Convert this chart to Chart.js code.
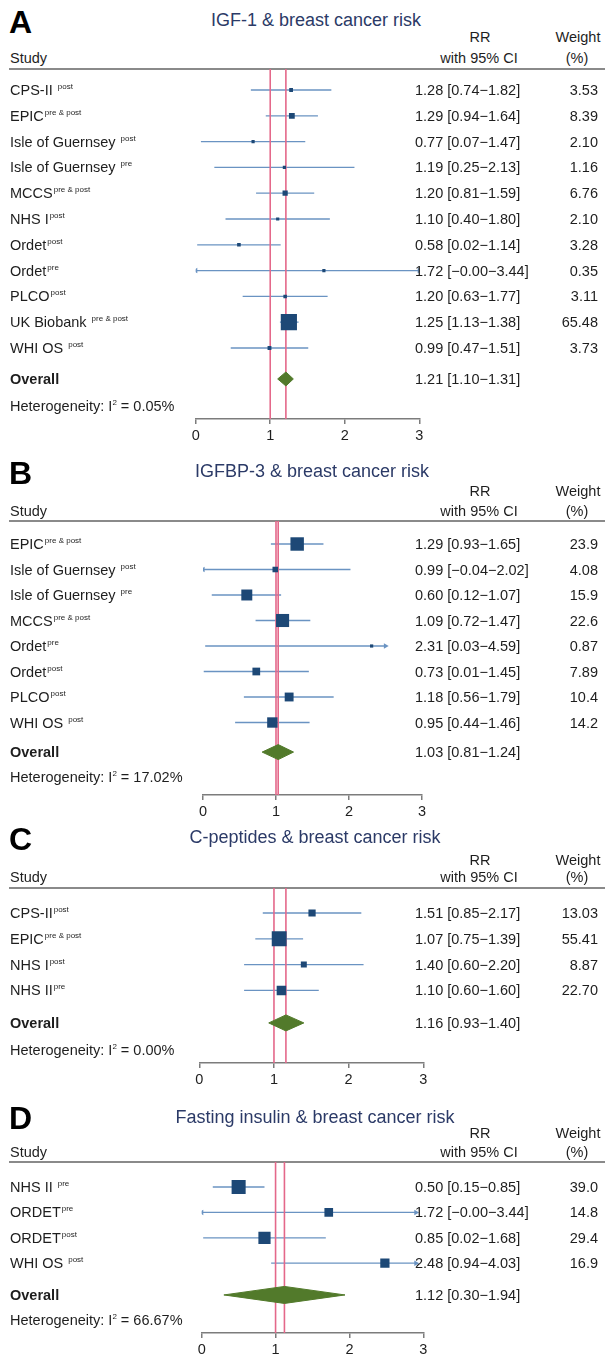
<!DOCTYPE html>
<html><head><meta charset="utf-8">
<script src="https://cdn.jsdelivr.net/npm/chart.js@4.4.1/dist/chart.umd.min.js"></script>
<style>
html,body{margin:0;padding:0;background:#fff;}
body{width:605px;height:1356px;position:relative;overflow:hidden;font-family:"Liberation Sans",Arial,Helvetica,sans-serif;color:#1e1e1e;}
.t{position:absolute;white-space:nowrap;font-size:14.5px;line-height:16px;}
.sp{font-size:8px;position:relative;top:-6px;margin-left:1px;}
.letter{position:absolute;font-weight:bold;font-size:32px;line-height:34px;color:#000;}
.title{position:absolute;font-size:18px;line-height:20px;color:#2b3a67;text-align:center;width:400px;white-space:nowrap;}
.hline{position:absolute;left:9px;width:596px;height:2px;background:#8a8a8a;}
canvas{position:absolute;left:0;}
</style></head><body>
<script>
// ---------- DATA ----------
// Panel A: IGF-1
const titleA = "IGF-1 & breast cancer risk";
const studiesA = ["CPS-II ", "EPIC", "Isle of Guernsey ", "Isle of Guernsey ", "MCCS", "NHS I", "Ordet", "Ordet", "PLCO", "UK Biobank ", "WHI OS "];
const supsA = ["post", "pre & post", "post", "pre", "pre & post", "post", "post", "pre", "post", "pre & post", "post"];
const rrA = [1.28, 1.29, 0.77, 1.19, 1.20, 1.10, 0.58, 1.72, 1.20, 1.25, 0.99];
const loA = [0.74, 0.94, 0.07, 0.25, 0.81, 0.40, 0.02, -0.001, 0.63, 1.13, 0.47];
const hiA = [1.82, 1.64, 1.47, 2.13, 1.59, 1.80, 1.14, 3.44, 1.77, 1.38, 1.51];
const weightA = ["3.53", "8.39", "2.10", "1.16", "6.76", "2.10", "3.28", "0.35", "3.11", "65.48", "3.73"];
const overallA = [1.21, 1.10, 1.31];
const hetA = "0.05";

// Panel B: IGFBP-3
const titleB = "IGFBP-3 & breast cancer risk";
const studiesB = ["EPIC", "Isle of Guernsey ", "Isle of Guernsey ", "MCCS", "Ordet", "Ordet", "PLCO", "WHI OS "];
const supsB = ["pre & post", "post", "pre", "pre & post", "pre", "post", "post", "post"];
const rrB = [1.29, 0.99, 0.60, 1.09, 2.31, 0.73, 1.18, 0.95];
const loB = [0.93, -0.04, 0.12, 0.72, 0.03, 0.01, 0.56, 0.44];
const hiB = [1.65, 2.02, 1.07, 1.47, 4.59, 1.45, 1.79, 1.46];
const weightB = ["23.9", "4.08", "15.9", "22.6", "0.87", "7.89", "10.4", "14.2"];
const overallB = [1.03, 0.81, 1.24];
const hetB = "17.02";

// Panel C: C-peptides
const titleC = "C-peptides & breast cancer risk";
const studiesC = ["CPS-II", "EPIC", "NHS I", "NHS II"];
const supsC = ["post", "pre & post", "post", "pre"];
const rrC = [1.51, 1.07, 1.40, 1.10];
const loC = [0.85, 0.75, 0.60, 0.60];
const hiC = [2.17, 1.39, 2.20, 1.60];
const weightC = ["13.03", "55.41", "8.87", "22.70"];
const overallC = [1.16, 0.93, 1.40];
const hetC = "0.00";

// Panel D: Fasting insulin
const titleD = "Fasting insulin & breast cancer risk";
const studiesD = ["NHS II ", "ORDET", "ORDET", "WHI OS "];
const supsD = ["pre", "pre", "post", "post"];
const rrD = [0.50, 1.72, 0.85, 2.48];
const loD = [0.15, -0.001, 0.02, 0.94];
const hiD = [0.85, 3.44, 1.68, 4.03];
const weightD = ["39.0", "14.8", "29.4", "16.9"];
const overallD = [1.12, 0.30, 1.94];
const hetD = "66.67";

const xTicks = [0, 1, 2, 3];

// ---------- STYLE / LAYOUT ----------
const FONT = '"Liberation Sans", Arial, Helvetica, sans-serif';
const NAVY = '#1d4876', CI = '#6a93c2', GREEN = '#527a2b', PINK = '#e4688a', AXC = '#7c7c7c';
const AXH = 32;
const W = 605;

function fmt(v){ return (v < 0 || Object.is(v, -0) ? '\u2212' : '') + Math.abs(v).toFixed(2); }
function ciText(e, l, h){ return e.toFixed(2) + ' [' + fmt(l) + '\u2212' + fmt(h) + ']'; }

function addText(html, x, y, align, cls){
  const d = document.createElement('div');
  d.className = cls || 't';
  d.innerHTML = html;
  const s = d.style;
  s.top = (y - 8) + 'px';
  if (align === 'center'){ s.left = (x - 150) + 'px'; s.width = '300px'; s.textAlign = 'center'; }
  else if (align === 'right'){ s.right = (W - x) + 'px'; s.textAlign = 'right'; }
  else { s.left = x + 'px'; }
  document.body.appendChild(d);
  return d;
}

function panel(p){
  const L = p.L;
  const n = p.names.length;
  const ovIdx = n - 1 + L.gap;
  // header
  const le = document.createElement('div'); le.className = 'letter'; le.textContent = p.letter;
  le.style.left = '9px'; le.style.top = (L.letterY - 17) + 'px'; document.body.appendChild(le);
  const ti = document.createElement('div'); ti.className = 'title'; ti.textContent = p.title;
  ti.style.left = (L.titleX - 200) + 'px'; ti.style.top = (L.titleY - 10) + 'px'; document.body.appendChild(ti);
  addText('RR', 480, L.rrY, 'center');
  addText('Weight', 578, L.rrY, 'center');
  addText('Study', 10, L.studyY, 'left');
  addText('with 95% CI', 479, L.studyY, 'center');
  addText('(%)', 577, L.studyY, 'center');
  const hl = document.createElement('div'); hl.className = 'hline'; hl.style.top = (L.lineY - 1) + 'px'; document.body.appendChild(hl);

  // chart
  const cv = document.createElement('canvas');
  cv.width = W; cv.height = L.axisY - L.lineY + AXH;
  cv.style.top = L.lineY + 'px';
  document.body.appendChild(cv);
  const yMin = (L.lineY - L.rowY0) / L.step;
  const yMax = (L.axisY - L.rowY0) / L.step;
  const hh = L.dh / L.step;
  const [c0, c1] = L.clip;

  const ds = [];
  ds.push({ type: 'scatter', order: 0,
    data: p.rr.map((v, i) => ({x: v, y: i})),
    pointStyle: 'rect',
    pointRadius: p.w.map(w => Math.max(3.2, L.k * Math.sqrt(Number(w))) / Math.SQRT2),
    backgroundColor: NAVY, borderColor: NAVY, borderWidth: 0 });
  const [oe, ol, oh] = p.ov;
  ds.push({ type: 'line', order: 1,
    data: [{x: ol, y: ovIdx}, {x: oe, y: ovIdx - hh}, {x: oh, y: ovIdx}, {x: oe, y: ovIdx + hh}, {x: ol, y: ovIdx}],
    fill: 'shape', backgroundColor: GREEN, borderColor: GREEN, borderWidth: 1, pointRadius: 0, tension: 0 });
  const arrows = [], rots = [];
  p.lo.forEach((l, i) => { if (l < c0){ arrows.push({x: c0, y: i}); rots.push(-90); } });
  p.hi.forEach((h, i) => { if (h > c1){ arrows.push({x: c1, y: i}); rots.push(90); } });
  ds.push({ type: 'scatter', order: 2, data: arrows, pointStyle: 'triangle', rotation: rots,
    pointRadius: 3.2, backgroundColor: CI, borderColor: CI, borderWidth: 0 });
  [1, oe].forEach(v => ds.push({ type: 'line', order: 4,
    data: [{x: v, y: yMin}, {x: v, y: yMax}], borderColor: PINK, borderWidth: 1.6, pointRadius: 0, fill: false }));
  p.rr.forEach((v, i) => ds.push({ type: 'line', order: 5,
    data: [{x: Math.max(p.lo[i], c0), y: i}, {x: Math.min(p.hi[i], c1), y: i}],
    borderColor: CI, borderWidth: 1.3, pointRadius: 0, fill: false }));

  const chart = new Chart(cv, {
    type: 'scatter',
    data: { datasets: ds },
    options: {
      responsive: false, animation: false, devicePixelRatio: 1, events: [],
      layout: { autoPadding: false, padding: { left: L.x0, right: W - L.x3, top: 0, bottom: 0 } },
      plugins: { legend: { display: false }, tooltip: { enabled: false } },
      scales: {
        x: { type: 'linear', position: 'bottom', min: xTicks[0], max: xTicks[xTicks.length - 1],
          afterFit: s => { s.height = AXH; },
          afterBuildTicks: s => { s.ticks = xTicks.map(v => ({value: v})); },
          border: { display: true, color: AXC, width: 1.5 },
          grid: { display: true, drawOnChartArea: false, drawTicks: true, tickLength: 5, color: AXC, lineWidth: 1.5 },
          ticks: { padding: 3, color: '#1e1e1e', font: { family: FONT, size: 14.5 }, maxRotation: 0, autoSkip: false } },
        y: { type: 'linear', display: false, reverse: true, min: yMin, max: yMax }
      }
    }
  });

  // row texts aligned to the chart's y scale
  const ys = v => L.lineY + chart.scales.y.getPixelForValue(v);
  p.names.forEach((nm, i) => {
    const y = ys(i);
    addText(nm + '<span class="sp">' + p.sups[i].replace(/&/g, '&amp;') + '</span>', 10, y, 'left');
    addText(ciText(p.rr[i], p.lo[i], p.hi[i]), L.ciX, y, 'left');
    addText(p.w[i], 598, y, 'right');
  });
  const yo = ys(ovIdx);
  addText('<b>Overall</b>', 10, yo, 'left');
  addText(ciText(oe, ol, oh), L.ciX, yo, 'left');
  addText('Heterogeneity: I<span class="sp" style="margin-left:0">2</span> = ' + p.het + '%', 10, L.hetY, 'left');
}

panel({ letter: 'A', title: titleA, names: studiesA, sups: supsA, rr: rrA, lo: loA, hi: hiA, w: weightA, ov: overallA, het: hetA,
  L: { letterY: 22, titleY: 20, titleX: 316, rrY: 37, studyY: 58, lineY: 69, rowY0: 90, step: 25.8, gap: 1.2, hetY: 406, axisY: 419,
       x0: 195.7, x3: 419.3, k: 2.0, clip: [0, 3], dh: 7, ciX: 415 } });
panel({ letter: 'B', title: titleB, names: studiesB, sups: supsB, rr: rrB, lo: loB, hi: hiB, w: weightB, ov: overallB, het: hetB,
  L: { letterY: 473, titleY: 471, titleX: 312, rrY: 491, studyY: 511, lineY: 521, rowY0: 544, step: 25.5, gap: 1.16, hetY: 777, axisY: 795,
       x0: 203, x3: 422, k: 2.75, clip: [0, 2.5], dh: 7.5, ciX: 415 } });
panel({ letter: 'C', title: titleC, names: studiesC, sups: supsC, rr: rrC, lo: loC, hi: hiC, w: weightC, ov: overallC, het: hetC,
  L: { letterY: 839, titleY: 837, titleX: 315, rrY: 860, studyY: 877, lineY: 888, rowY0: 913, step: 25.8, gap: 1.26, hetY: 1050, axisY: 1063,
       x0: 199.3, x3: 423.3, k: 2.0, clip: [0, 3], dh: 8, ciX: 415 } });
panel({ letter: 'D', title: titleD, names: studiesD, sups: supsD, rr: rrD, lo: loD, hi: hiD, w: weightD, ov: overallD, het: hetD,
  L: { letterY: 1118, titleY: 1117, titleX: 315, rrY: 1133, studyY: 1152, lineY: 1162, rowY0: 1187, step: 25.4, gap: 1.25, hetY: 1320, axisY: 1333,
       x0: 201.7, x3: 423.3, k: 2.25, clip: [0, 2.9], dh: 8.5, ciX: 415 } });
</script>
</body></html>
